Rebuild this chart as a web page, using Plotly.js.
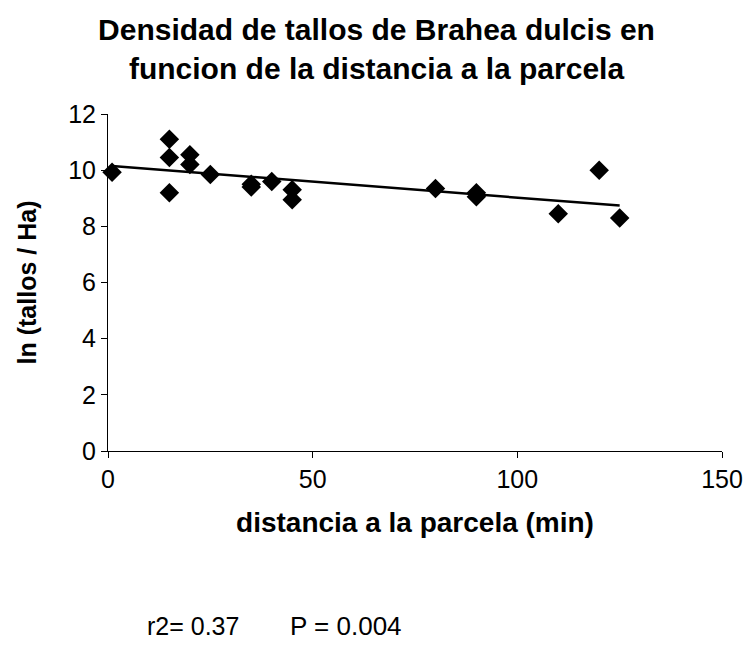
<!DOCTYPE html>
<html>
<head>
<meta charset="utf-8">
<script src="https://cdn.plot.ly/plotly-3.0.1.min.js"></script>
<style>html,body{margin:0;padding:0;background:#fff;}#chart{width:753px;height:662px;}</style>
</head>
<body>
<div id="chart"></div>
<script>
// distancia a la parcela (min)
const distancia = [1, 15, 15, 15, 20, 20, 25, 35, 35, 40, 45, 45, 80, 90, 90, 110, 120, 125];
// ln (tallos / Ha)
const lnTallos = [9.93, 11.1, 10.45, 9.2, 10.55, 10.2, 9.85, 9.5, 9.4, 9.6, 9.3, 8.95, 9.35, 9.2, 9.05, 8.45, 10.0, 8.3];
const xTicks = [0, 50, 100, 150];
const yTicks = [0, 2, 4, 6, 8, 10, 12];
const statsText = ["r2= 0.37", "P = 0.004"];

// least-squares trend line from the data
const n = distancia.length;
const mx = distancia.reduce((a, b) => a + b, 0) / n;
const my = lnTallos.reduce((a, b) => a + b, 0) / n;
let sxy = 0, sxx = 0;
for (let i = 0; i < n; i++) { sxy += (distancia[i] - mx) * (lnTallos[i] - my); sxx += (distancia[i] - mx) ** 2; }
const slope = sxy / sxx;
const intercept = my - slope * mx;
const xMin = Math.min(...distancia), xMax = Math.max(...distancia);
const trendX = [xMin, xMax];
const trendY = trendX.map(x => intercept + slope * x);

const font = "Liberation Sans, Arial, sans-serif";
const data = [
  { x: distancia, y: lnTallos, type: "scatter", mode: "markers",
    marker: { symbol: "diamond", size: 15, color: "#000" }, showlegend: false, cliponaxis: false },
  { x: trendX, y: trendY, type: "scatter", mode: "lines",
    line: { color: "#000", width: 2.5 }, showlegend: false }
];
const layout = {
  width: 753, height: 662,
  margin: { l: 108, r: 31, t: 114, b: 211 },
  paper_bgcolor: "#fff", plot_bgcolor: "#fff",
  font: { family: font, color: "#000" },
  title: { text: "<b>Densidad de tallos de Brahea dulcis en<br>funcion de la distancia a la parcela</b>",
           font: { family: font, size: 30, color: "#000" }, x: 0.5, xanchor: "center", y: 0.94, yanchor: "middle" },
  xaxis: { range: [0, 150], tickvals: xTicks, ticktext: xTicks.map(String),
           showgrid: false, zeroline: false, showline: true, linecolor: "#000", linewidth: 1,
           ticks: "outside", ticklen: 6, tickcolor: "#000",
           tickfont: { family: font, size: 25, color: "#000" },
           title: { text: "<b>distancia a la parcela (min)</b>", font: { family: font, size: 28, color: "#000" }, standoff: 20 } },
  yaxis: { range: [0, 12], tickvals: yTicks, ticktext: yTicks.map(String),
           showgrid: false, zeroline: false, showline: true, linecolor: "#000", linewidth: 1,
           ticks: "outside", ticklen: 6, tickcolor: "#000",
           tickfont: { family: font, size: 25, color: "#000" },
           title: { text: "<b>ln (tallos / Ha)</b>", font: { family: font, size: 25, color: "#000" }, standoff: 24 } },
  annotations: [
    { text: statsText[0], xref: "paper", yref: "paper", x: 0.06, y: -0.518, xanchor: "left", yanchor: "middle",
      showarrow: false, font: { family: font, size: 25, color: "#000" } },
    { text: statsText[1], xref: "paper", yref: "paper", x: 0.293, y: -0.518, xanchor: "left", yanchor: "middle",
      showarrow: false, font: { family: font, size: 26, color: "#000" } }
  ]
};
Plotly.newPlot("chart", data, layout, { displayModeBar: false, staticPlot: true });
</script>
</body>
</html>
